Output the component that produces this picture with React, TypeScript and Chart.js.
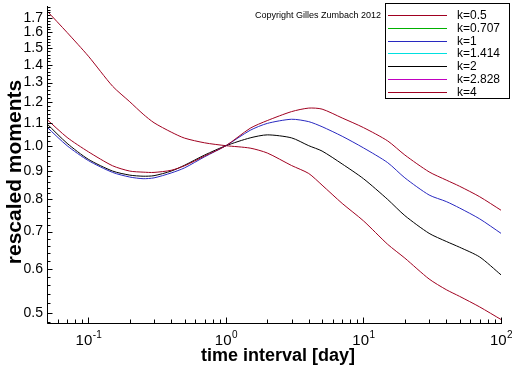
import React, { useEffect, useRef } from "react";
import { Chart, registerables } from "chart.js";
Chart.register(...registerables);

// ---- data ----
const xValues = [0.05, 0.07, 0.1, 0.15, 0.2, 0.25, 0.3, 0.4, 0.5, 0.7, 1, 1.5, 2, 3, 4, 5, 7, 10, 15, 20, 30, 40, 50, 70, 100];
const seriesLabels = ["k=0.5", "k=0.707", "k=1", "k=1.414", "k=2", "k=2.828", "k=4"];
const seriesColors = ["#a00020", "#00b000", "#2828c0", "#00e0e0", "#000000", "#c000c0", "#a00020"];
const k05 = [1.115, 1.035, 0.975, 0.92, 0.9, 0.896, 0.895, 0.903, 0.92, 0.958, 1.0, 1.075, 1.11, 1.152, 1.169, 1.164, 1.122, 1.078, 1.02, 0.962, 0.897, 0.867, 0.845, 0.809, 0.765];
const k0707: number[] = [];
const k1 = [1.08, 1.0, 0.94, 0.895, 0.878, 0.872, 0.875, 0.893, 0.912, 0.955, 1.0, 1.066, 1.097, 1.116, 1.105, 1.082, 1.04, 0.991, 0.932, 0.875, 0.815, 0.793, 0.772, 0.738, 0.695];
const k1414: number[] = [];
const k2 = [1.095, 1.01, 0.945, 0.9, 0.885, 0.881, 0.883, 0.9, 0.922, 0.962, 1.0, 1.033, 1.046, 1.033, 1.0, 0.978, 0.927, 0.872, 0.8, 0.748, 0.695, 0.672, 0.656, 0.63, 0.585];
const k2828: number[] = [];
const k4 = [1.75, 1.6, 1.45, 1.28, 1.2, 1.14, 1.1, 1.058, 1.032, 1.012, 1.0, 0.99, 0.97, 0.921, 0.891, 0.849, 0.787, 0.732, 0.664, 0.627, 0.575, 0.55, 0.535, 0.512, 0.486];
const seriesValues = [k05, k0707, k1, k1414, k2, k2828, k4];

const xMajorTicks = [0.1, 1, 10, 100];
const xTickExponents = ["-1", "0", "1", "2"];
const yMajorTicks = [0.5, 0.6, 0.7, 0.8, 0.9, 1.0, 1.1, 1.2, 1.3, 1.4, 1.5, 1.6, 1.7];
const yTickLabels = ["0.5", "0.6", "0.7", "0.8", "0.9", "1.0", "1.1", "1.2", "1.3", "1.4", "1.5", "1.6", "1.7"];
const xMin = 0.05, xMax = 100, yMin = 0.477, yMax = 1.786;
const xTitle = "time interval [day]";
const yTitle = "rescaled moments";
const copyright = "Copyright Gilles Zumbach 2012";

const FONT = '"Liberation Sans", Arial, sans-serif';

const axesPlugin = {
  id: "axesPlugin",
  afterDraw(chart: any) {
    const { ctx, chartArea, scales } = chart;
    const { left, right, top, bottom } = chartArea;
    const xs = scales.x, ys = scales.y;
    ctx.save();
    ctx.strokeStyle = "#000";
    ctx.fillStyle = "#000";
    ctx.lineWidth = 1;
    const L = Math.round(left) + 0.5;
    const B = Math.round(bottom) - 0.5;
    ctx.beginPath();
    ctx.moveTo(L, Math.round(top));
    ctx.lineTo(L, B);
    ctx.lineTo(Math.round(right) + 1, B);
    ctx.stroke();

    // x ticks
    ctx.beginPath();
    for (let d = 0.01; d <= 100; d *= 10) {
      for (let m = 1; m <= 9; m++) {
        const v = d * m;
        if (v < xMin * 0.999 || v > xMax * 1.001) continue;
        const px = Math.round(xs.getPixelForValue(v)) + 0.5;
        const len = m === 1 ? 6 : 4;
        ctx.moveTo(px, B);
        ctx.lineTo(px, B - len);
      }
    }
    // y ticks
    for (let i = 24; i <= 89; i++) {
      const v = i / 50;
      if (v < yMin || v > yMax) continue;
      const py = Math.round(ys.getPixelForValue(v)) + 0.5;
      const len = i % 5 === 0 ? 5 : 3;
      ctx.moveTo(L, py);
      ctx.lineTo(L + len, py);
    }
    ctx.stroke();

    // y labels
    ctx.font = `14px ${FONT}`;
    ctx.textAlign = "right";
    ctx.textBaseline = "middle";
    yMajorTicks.forEach((v, i) => {
      ctx.fillText(yTickLabels[i], 43, ys.getPixelForValue(v));
    });

    // x labels with superscript
    xMajorTicks.forEach((v, i) => {
      const px = xs.getPixelForValue(v);
      ctx.font = `15px ${FONT}`;
      const w1 = ctx.measureText("10").width;
      ctx.font = `10px ${FONT}`;
      const w2 = ctx.measureText(xTickExponents[i]).width;
      const x0 = px - (w1 + w2) / 2;
      ctx.textAlign = "left";
      ctx.textBaseline = "alphabetic";
      ctx.font = `15px ${FONT}`;
      ctx.fillText("10", x0, 345);
      ctx.font = `10px ${FONT}`;
      ctx.fillText(xTickExponents[i], x0 + w1 + 0.5, 338);
    });

    // titles
    ctx.font = `bold 18px ${FONT}`;
    ctx.textAlign = "center";
    ctx.textBaseline = "middle";
    ctx.fillText(xTitle, 278, 356);
    ctx.save();
    ctx.translate(15, 172);
    ctx.rotate(-Math.PI / 2);
    ctx.font = `bold 21px ${FONT}`;
    ctx.fillText(yTitle, 0, 0);
    ctx.restore();

    // copyright
    ctx.font = `9px ${FONT}`;
    ctx.textAlign = "left";
    ctx.fillText(copyright, 255, 16);

    // legend
    ctx.fillStyle = "#fff";
    ctx.fillRect(385.5, 3.5, 124, 95);
    ctx.strokeStyle = "#000";
    ctx.strokeRect(385.5, 3.5, 124, 95);
    ctx.font = `12px ${FONT}`;
    ctx.textBaseline = "middle";
    ctx.textAlign = "left";
    chart.data.datasets.forEach((ds: any, i: number) => {
      const yy = Math.round(15 + i * 12.8) + 0.5;
      ctx.strokeStyle = seriesColors[i];
      ctx.lineWidth = 1;
      ctx.beginPath();
      ctx.moveTo(388, yy);
      ctx.lineTo(447, yy);
      ctx.stroke();
      ctx.fillStyle = "#000";
      ctx.fillText(ds.label, 457, yy);
    });
    ctx.restore();
  },
};

export default function App() {
  const ref = useRef<HTMLCanvasElement>(null);
  useEffect(() => {
    document.body.style.margin = "0";
    if (!ref.current) return;
    const datasets = seriesLabels.map((label, i) => ({
      label,
      data: seriesValues[i].map((y, j) => ({ x: xValues[j], y })),
      borderColor: seriesColors[i],
      backgroundColor: seriesColors[i],
      borderWidth: 1,
      pointRadius: 0,
      tension: 0.25,
      fill: false,
    }));
    const chart = new Chart(ref.current, {
      type: "line",
      data: { datasets },
      options: {
        animation: false,
        responsive: false,
        devicePixelRatio: 1,
        layout: { padding: { left: 47, right: 11, top: 6, bottom: 42 } },
        plugins: { legend: { display: false }, tooltip: { enabled: false }, title: { display: false } },
        scales: {
          x: { type: "logarithmic", min: xMin, max: xMax, display: false },
          y: { type: "logarithmic", min: yMin, max: yMax, display: false },
        },
      },
      plugins: [axesPlugin],
    } as any);
    return () => chart.destroy();
  }, []);
  return (
    <div style={{ position: "absolute", left: 0, top: 0, width: 512, height: 366, background: "#fff" }}>
      <canvas ref={ref} width={512} height={366} style={{ display: "block" }} />
    </div>
  );
}
